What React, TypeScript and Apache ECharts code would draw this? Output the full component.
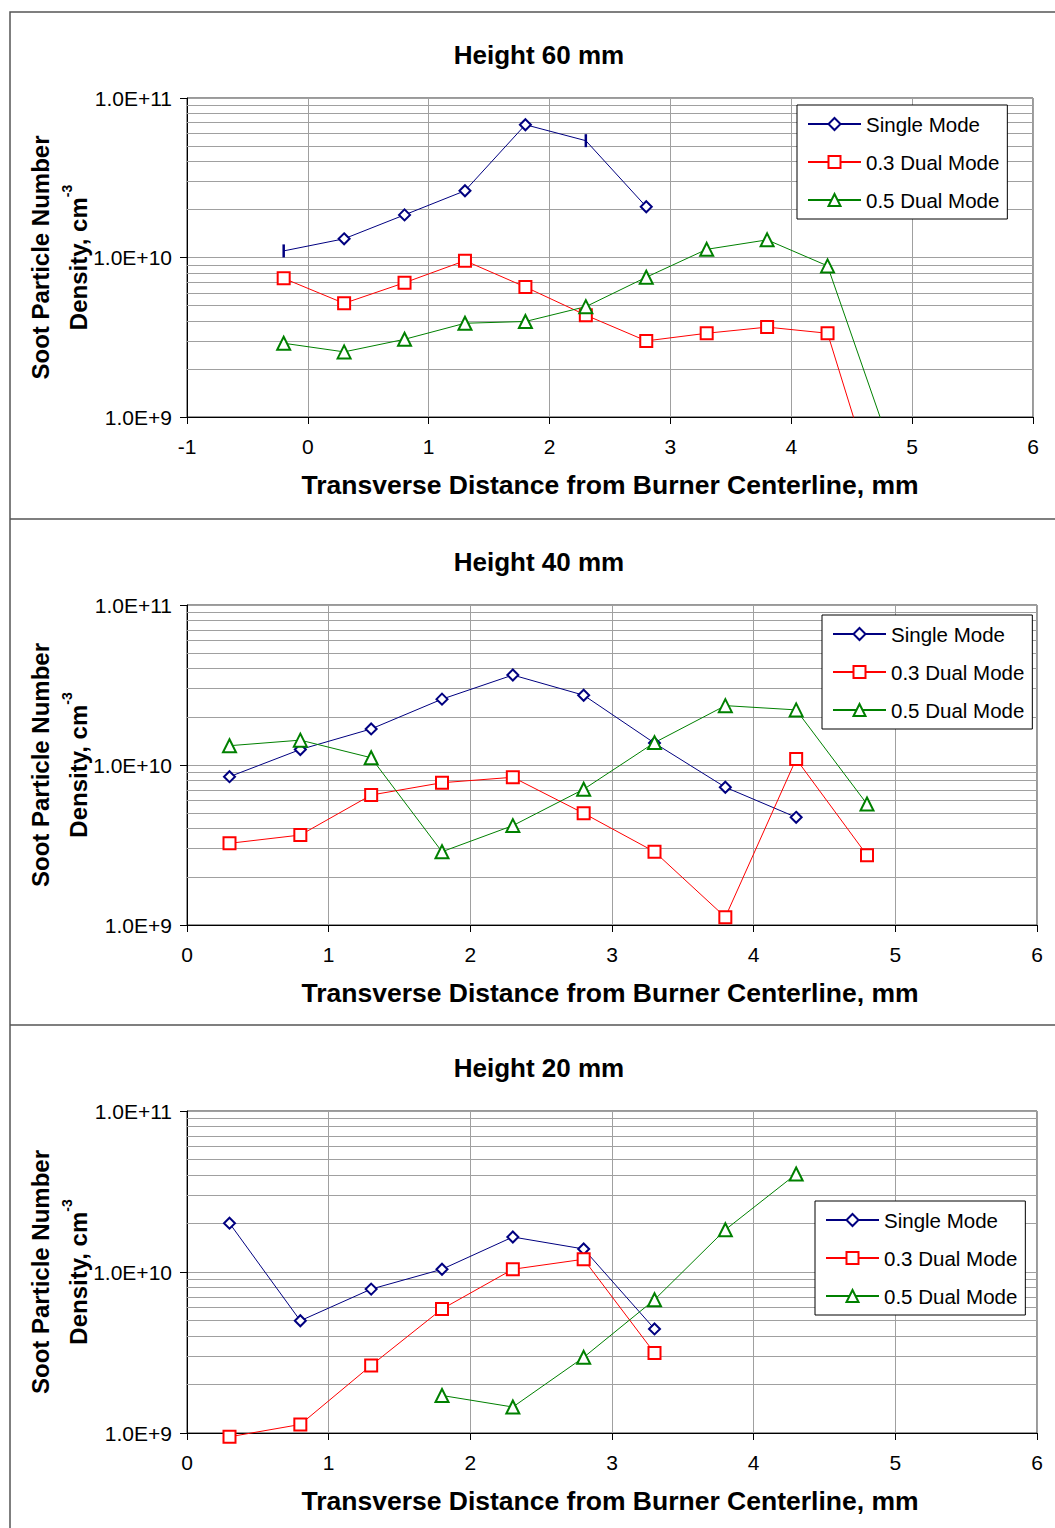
import React, { useEffect, useRef } from "react";
import * as echarts from "echarts";

// Soot particle number density (cm^-3) across the burner, three heights.
const panelTitles = ["Height 60 mm", "Height 40 mm", "Height 20 mm"];
const seriesNames = ["Single Mode", "0.3 Dual Mode", "0.5 Dual Mode"];
const yTickValues = [1e9, 1e10, 1e11];

// Height 60 mm
const x60 = [-0.2, 0.3, 0.8, 1.3, 1.8, 2.3, 2.8, 3.3, 3.8, 4.3, 4.8];
const single60 = [1.1e10, 1.31e10, 1.85e10, 2.62e10, 6.8e10, 5.4e10, 2.08e10];
const dual03_60 = [7.4e9, 5.16e9, 6.95e9, 9.55e9, 6.53e9, 4.35e9, 3.0e9, 3.35e9, 3.66e9, 3.35e9, 2.0e8];
const dual05_60 = [2.9e9, 2.56e9, 3.07e9, 3.87e9, 3.97e9, 4.92e9, 7.52e9, 1.125e10, 1.29e10, 8.86e9, 7.2e8];
// single-mode points drawn with a short bar marker instead of a diamond
const single60BarMarks = [-0.2, 2.3];

// Height 40 mm
const x40 = [0.3, 0.8, 1.3, 1.8, 2.3, 2.8, 3.3, 3.8, 4.3, 4.8];
const single40 = [8.45e9, 1.25e10, 1.68e10, 2.58e10, 3.65e10, 2.73e10, 1.37e10, 7.26e9, 4.71e9];
const dual03_40 = [3.24e9, 3.65e9, 6.49e9, 7.75e9, 8.38e9, 4.99e9, 2.87e9, 1.12e9, 1.09e10, 2.73e9];
const dual05_40 = [1.32e10, 1.43e10, 1.11e10, 2.87e9, 4.18e9, 7.05e9, 1.38e10, 2.35e10, 2.21e10, 5.7e9];

// Height 20 mm
const x20 = [0.3, 0.8, 1.3, 1.8, 2.3, 2.8, 3.3];
const single20 = [2.01e10, 4.98e9, 7.83e9, 1.04e10, 1.65e10, 1.39e10, 4.43e9];
const dual03_20 = [9.47e8, 1.13e9, 2.63e9, 5.89e9, 1.04e10, 1.2e10, 3.14e9];
const x20_05 = [1.8, 2.3, 2.8, 3.3, 3.8, 4.3];
const dual05_20 = [1.71e9, 1.45e9, 2.95e9, 6.73e9, 1.83e10, 4.06e10];

const FONT = "'Liberation Sans', Arial, Helvetica, sans-serif";
const NAVY = "#000080";
const RED = "#ff0000";
const GREEN = "#008000";
const GRID_GRAY = "#a0a0a0";

const pair = (xs: number[], ys: number[]) => ys.map((y, i) => [xs[i], y]);

type Panel = {
  title: string;
  grid: { left: number; top: number; width: number; height: number };
  xMin: number;
  legend: { left: number; top: number };
  series: { name: string; data: any[]; clip: boolean }[];
};

const panels: Panel[] = [
  {
    title: panelTitles[0],
    grid: { left: 187, top: 98, width: 846, height: 319 },
    xMin: -1,
    legend: { left: 797, top: 105 },
    series: [
      {
        name: seriesNames[0],
        clip: true,
        data: pair(x60, single60).map((p) =>
          single60BarMarks.includes(p[0])
            ? {
                value: p,
                symbol: "rect",
                symbolSize: [2.5, 13],
                itemStyle: { color: NAVY, borderWidth: 0 },
              }
            : p
        ),
      },
      { name: seriesNames[1], clip: true, data: pair(x60, dual03_60) },
      { name: seriesNames[2], clip: true, data: pair(x60, dual05_60) },
    ],
  },
  {
    title: panelTitles[1],
    grid: { left: 187, top: 605, width: 850, height: 320 },
    xMin: 0,
    legend: { left: 822, top: 615 },
    series: [
      { name: seriesNames[0], clip: false, data: pair(x40, single40) },
      { name: seriesNames[1], clip: false, data: pair(x40, dual03_40) },
      { name: seriesNames[2], clip: false, data: pair(x40, dual05_40) },
    ],
  },
  {
    title: panelTitles[2],
    grid: { left: 187, top: 1111, width: 850, height: 322 },
    xMin: 0,
    legend: { left: 815, top: 1201 },
    series: [
      { name: seriesNames[0], clip: false, data: pair(x20, single20) },
      { name: seriesNames[1], clip: false, data: pair(x20, dual03_20) },
      { name: seriesNames[2], clip: false, data: pair(x20_05, dual05_20) },
    ],
  },
];

const seriesLook = [
  { color: NAVY, symbol: "emptyDiamond", symbolSize: 11 },
  { color: RED, symbol: "emptyRect", symbolSize: 12 },
  { color: GREEN, symbol: "emptyTriangle", symbolSize: 13 },
];

// minor log gridlines: 2..9 within each decade
const minorGrid = [1e9, 1e10].flatMap((d) => [2, 3, 4, 5, 6, 7, 8, 9].map((k) => k * d));

function buildOption() {
  const grids: any[] = [];
  const xAxes: any[] = [];
  const yAxes: any[] = [];
  const legends: any[] = [];
  const series: any[] = [];
  const graphics: any[] = [];

  panels.forEach((p, i) => {
    grids.push({
      ...p.grid,
      show: true,
      borderColor: "#333",
      borderWidth: 1,
      backgroundColor: "transparent",
    });
    xAxes.push({
      type: "value",
      gridIndex: i,
      min: p.xMin,
      max: 6,
      interval: 1,
      axisLine: { show: true, onZero: false, lineStyle: { color: "#000", width: 1 } },
      axisTick: { show: true, length: 7, lineStyle: { color: "#000" } },
      axisLabel: { fontSize: 21, color: "#000", margin: 19, fontFamily: FONT },
      splitLine: { show: true, lineStyle: { color: GRID_GRAY, width: 1 } },
    });
    yAxes.push({
      type: "log",
      logBase: 10,
      gridIndex: i,
      min: yTickValues[0],
      max: yTickValues[yTickValues.length - 1],
      axisLine: { show: true, onZero: false, lineStyle: { color: "#000", width: 1 } },
      axisTick: { show: true, length: 7, lineStyle: { color: "#000" } },
      axisLabel: {
        fontSize: 21,
        color: "#000",
        margin: 15,
        fontFamily: FONT,
        formatter: (v: number) => Number(v).toExponential(1).toUpperCase(),
      },
      splitLine: { show: true, lineStyle: { color: GRID_GRAY, width: 1 } },
    });
    legends.push({
      data: seriesNames,
      orient: "vertical",
      left: p.legend.left,
      top: p.legend.top,
      z: 20,
      itemWidth: 53,
      itemHeight: 15,
      itemGap: 14,
      padding: [7, 8, 7, 10],
      borderColor: "#000",
      borderWidth: 1,
      backgroundColor: "#fff",
      textStyle: { fontSize: 20.5, color: "#000", fontFamily: FONT, lineHeight: 24 },
      selectedMode: false,
    });

    // log-scale minor gridlines
    series.push({
      type: "line",
      name: "grid-" + i,
      xAxisIndex: i,
      yAxisIndex: i,
      data: [],
      silent: true,
      z: 1,
      markLine: {
        silent: true,
        symbol: "none",
        animation: false,
        z: 1,
        label: { show: false },
        lineStyle: { color: GRID_GRAY, width: 1, type: "solid" },
        data: minorGrid.map((v) => ({ yAxis: v })),
      },
    });

    p.series.forEach((s, k) => {
      const look = seriesLook[k];
      series.push({
        type: "line",
        name: s.name,
        xAxisIndex: i,
        yAxisIndex: i,
        data: s.data,
        clip: s.clip,
        symbol: look.symbol,
        symbolSize: look.symbolSize,
        showAllSymbol: true,
        z: 3,
        lineStyle: { color: look.color, width: 1 },
        itemStyle: { color: look.color, borderWidth: 2 },
      });
    });

    graphics.push({
      type: "text",
      x: p.grid.left + 352,
      y: p.grid.top - 43,
      style: {
        text: p.title,
        fontSize: 26,
        fontWeight: "bold",
        fontFamily: FONT,
        fill: "#000",
        align: "center",
        verticalAlign: "middle",
      },
    });
    graphics.push({
      type: "text",
      x: p.grid.left + 423,
      y: p.grid.top + p.grid.height + 68,
      style: {
        text: "Transverse Distance from Burner Centerline, mm",
        fontSize: 26.5,
        fontWeight: "bold",
        fontFamily: FONT,
        fill: "#000",
        align: "center",
        verticalAlign: "middle",
      },
    });
    const midY = p.grid.top + p.grid.height / 2;
    graphics.push({
      type: "text",
      x: 40,
      y: midY,
      rotation: Math.PI / 2,
      style: {
        text: "Soot Particle Number",
        fontSize: 24,
        fontWeight: "bold",
        fontFamily: FONT,
        fill: "#000",
        align: "center",
        verticalAlign: "middle",
      },
    });
    graphics.push({
      type: "text",
      x: 75,
      y: midY,
      rotation: Math.PI / 2,
      style: {
        text: "{a|Density, cm}{b|-3}",
        align: "center",
        verticalAlign: "middle",
        rich: {
          a: {
            fontSize: 24,
            fontWeight: "bold",
            fontFamily: FONT,
            fill: "#000",
            lineHeight: 30,
            verticalAlign: "bottom",
          },
          b: {
            fontSize: 14,
            fontWeight: "bold",
            fontFamily: FONT,
            fill: "#000",
            lineHeight: 16,
            verticalAlign: "top",
          },
        },
      },
    });
  });

  // outer frame and panel separators
  graphics.push({
    type: "rect",
    shape: { x: 10, y: 12, width: 1080, height: 1560 },
    style: { fill: "none", stroke: "#555", lineWidth: 1.5 },
    z: 10,
  });
  [519, 1025].forEach((y) =>
    graphics.push({
      type: "line",
      shape: { x1: 10, y1: y, x2: 1060, y2: y },
      style: { stroke: "#555", lineWidth: 1.5 },
      z: 10,
    })
  );

  return {
    animation: false,
    backgroundColor: "#fff",
    textStyle: { fontFamily: FONT },
    grid: grids,
    xAxis: xAxes,
    yAxis: yAxes,
    legend: legends,
    series,
    graphic: graphics,
  };
}

export default function App() {
  const ref = useRef<HTMLDivElement>(null);
  useEffect(() => {
    if (!ref.current) return;
    const chart = echarts.init(ref.current, undefined, { renderer: "svg" });
    chart.setOption(buildOption() as any);
    return () => chart.dispose();
  }, []);
  return (
    <div
      ref={ref}
      style={{ position: "absolute", left: 0, top: 0, width: 1055, height: 1528 }}
    />
  );
}
